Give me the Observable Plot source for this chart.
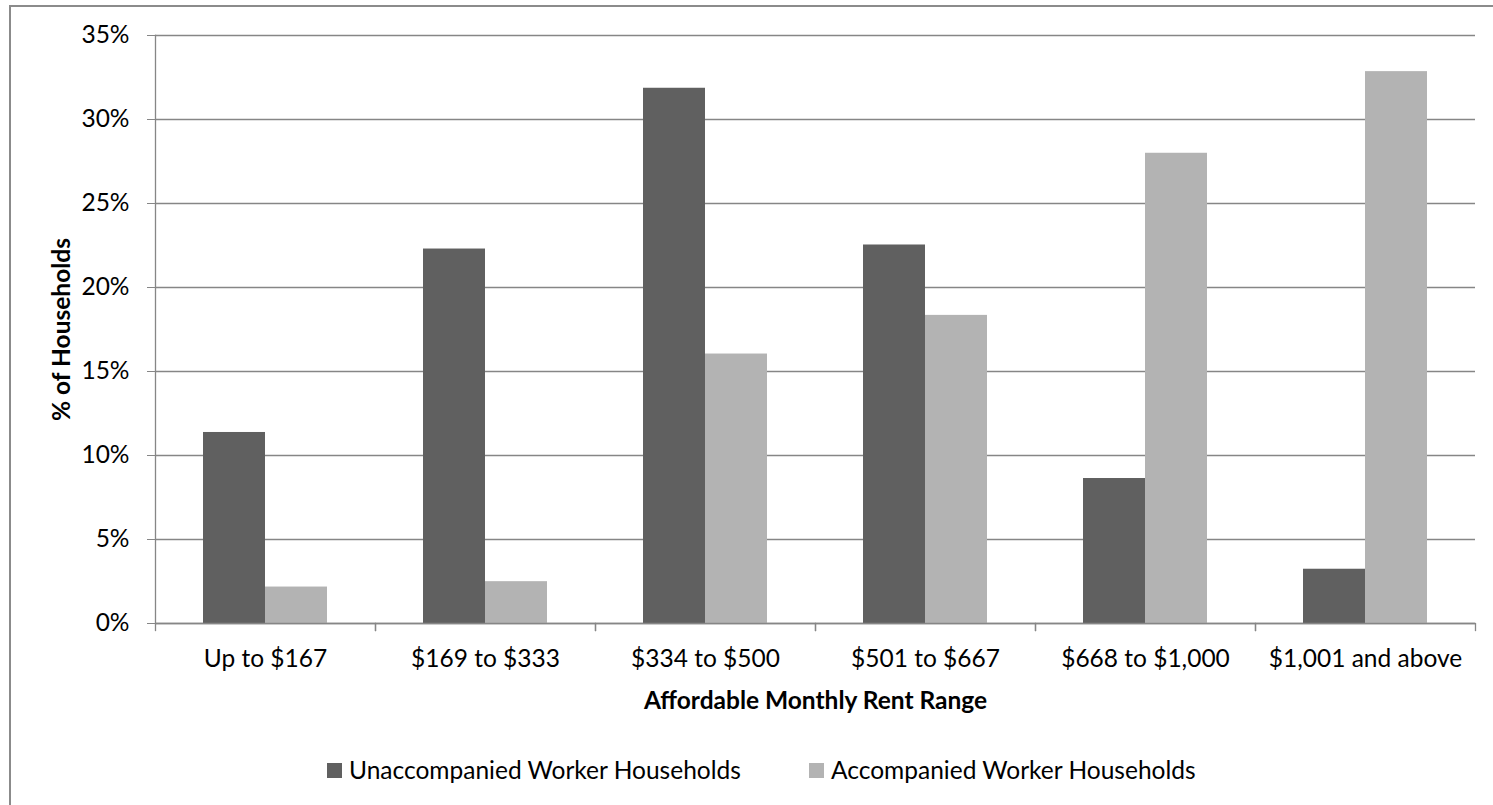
<!DOCTYPE html>
<html>
<head>
<meta charset="utf-8">
<script src="https://cdn.jsdelivr.net/npm/d3@7"></script>
<script src="https://cdn.jsdelivr.net/npm/@observablehq/plot@0.6"></script>
<style>
  html, body { margin: 0; padding: 0; background: #fff; overflow: hidden; }
  #wrap { position: relative; width: 1493px; height: 805px; overflow: hidden; background: #fff; }
  #border { position: absolute; left: 9px; top: 5px; width: 1600px; height: 900px; border: 2px solid #8b8b8b; box-sizing: border-box; }
  #chart { position: absolute; left: 0; top: 0; }
  #chart svg g[aria-label="y-axis label"], #chart svg g[aria-label="fx-axis label"] { font-weight: bold; }
  .legend { position: absolute; top: 0; left: 0; font-family: Lato, sans-serif; font-size: 24.5px; color: #000; }
  .item { position: absolute; white-space: nowrap; line-height: 30px; height: 30px; top: 755px; }
  .sw { display: inline-block; width: 15px; height: 15px; position: absolute; left: 0; top: 8px; }
  .lab { position: absolute; left: 22px; top: 0; }
</style>
</head>
<body>
<div id="wrap">
  <div id="border"></div>
  <div id="chart"></div>
  <div class="legend" id="legend"></div>
</div>
<script>
const categories = ["Up to $167", "$169 to $333", "$334 to $500", "$501 to $667", "$668 to $1,000", "$1,001 and above"];
const seriesNames = ["Unaccompanied Worker Households", "Accompanied Worker Households"];
const unaccompanied = [11.37, 22.29, 31.86, 22.53, 8.63, 3.23];
const accompanied = [2.17, 2.49, 16.04, 18.34, 27.99, 32.85];
const seriesColors = ["#606060", "#b3b3b3"];
const yTicks = [0, 5, 10, 15, 20, 25, 30, 35];
const xTitle = "Affordable Monthly Rent Range";
const yTitle = "% of Households";

const data = categories.flatMap((c, i) => [
  {cat: c, series: seriesNames[0], value: unaccompanied[i]},
  {cat: c, series: seriesNames[1], value: accompanied[i]}
]);

const gridColor = "#868686";
const fs = 24.5;

const chart = Plot.plot({
  width: 1493,
  height: 760,
  marginLeft: 154,
  marginRight: 17,
  marginTop: 35,
  marginBottom: 137,
  style: {fontFamily: "Lato, sans-serif", fontSize: fs + "px", color: "black", background: "transparent", overflow: "visible"},
  fx: {domain: categories, padding: 0, axis: null, label: null},
  x: {domain: seriesNames, paddingInner: 0, paddingOuter: 0.757, axis: null},
  y: {domain: [0, 35], axis: null},
  color: {domain: seriesNames, range: seriesColors},
  marks: [
    Plot.ruleY(yTicks, {stroke: gridColor, strokeWidth: 1.3}),
    Plot.frame({anchor: "left", stroke: gridColor, strokeWidth: 1.3, fx: () => categories[0]}),
    Plot.frame({anchor: "left", insetTop: 588, insetBottom: -7, stroke: gridColor, strokeWidth: 1.3}),
    Plot.frame({anchor: "right", insetTop: 588, insetBottom: -7, stroke: gridColor, strokeWidth: 1.3}),
    Plot.barY(data, {fx: "cat", x: "series", y: "value", fill: "series"}),
    Plot.ruleY([0], {stroke: gridColor, strokeWidth: 1.3}),
    Plot.axisY({
      ticks: yTicks, tickFormat: d => d + "%", tickSize: 8, tickPadding: 18,
      stroke: gridColor, fill: "black", fontSize: fs,
      label: yTitle, labelAnchor: "center", labelOffset: 103, labelArrow: "none"
    }),
    Plot.axisFx({
      anchor: "bottom",
      tickSize: 0, tickPadding: 25.6, fill: "black", fontSize: fs,
      label: xTitle, labelAnchor: "center", labelOffset: 85, labelArrow: "none"
    })
  ]
});
document.getElementById("chart").appendChild(chart);

const legend = document.getElementById("legend");
const lefts = [327, 809];
seriesNames.forEach((name, i) => {
  const item = document.createElement("div");
  item.className = "item";
  item.style.left = lefts[i] + "px";
  const sw = document.createElement("span");
  sw.className = "sw";
  sw.style.background = seriesColors[i];
  const lab = document.createElement("span");
  lab.className = "lab";
  lab.textContent = name;
  item.appendChild(sw);
  item.appendChild(lab);
  legend.appendChild(item);
});
</script>
</body>
</html>
